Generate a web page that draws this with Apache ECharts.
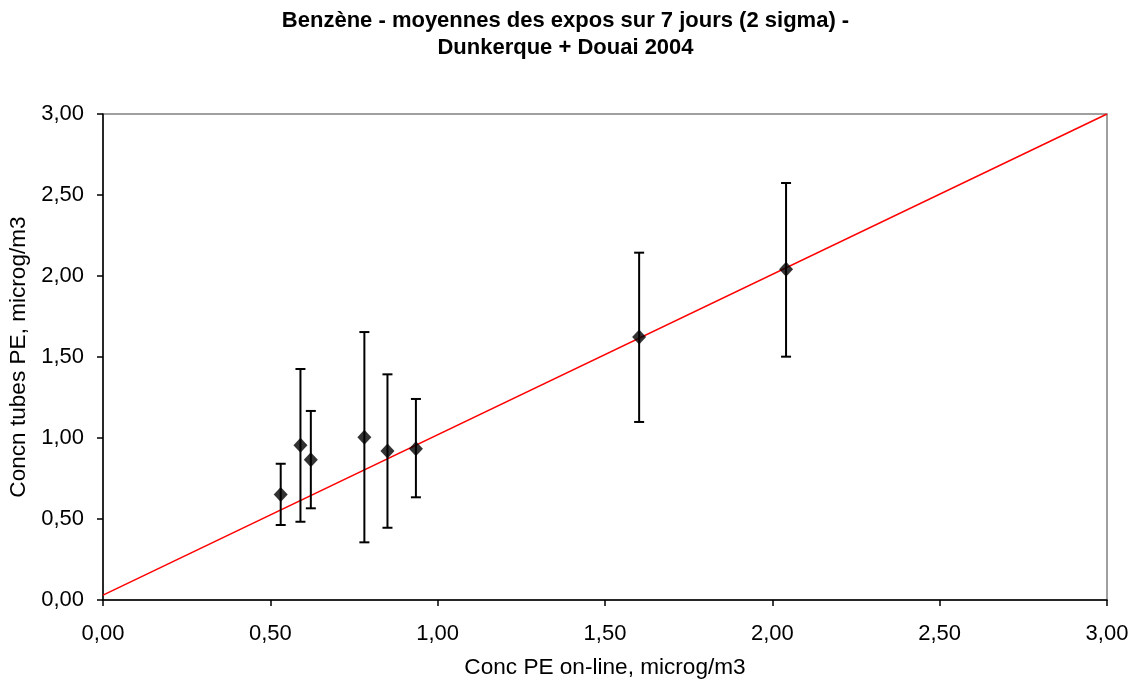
<!DOCTYPE html>
<html>
<head>
<meta charset="utf-8">
<script src="https://cdn.jsdelivr.net/npm/echarts@6/dist/echarts.min.js"></script>
<style>
  html, body { margin: 0; padding: 0; background: #fff; }
  #chart { width: 1131px; height: 682px; }
</style>
</head>
<body>
<div id="chart"></div>
<script>
// valeurs
const concOnline = [0.531, 0.590, 0.621, 0.781, 0.850, 0.935, 1.602, 2.041];
const concTubes = [0.652, 0.955, 0.866, 1.004, 0.920, 0.934, 1.623, 2.041];
const errHigh = [0.841, 1.426, 1.167, 1.654, 1.393, 1.241, 2.144, 2.574];
const errLow = [0.463, 0.483, 0.566, 0.356, 0.446, 0.634, 1.099, 1.502];
const refLine = [[0, 0.03], [3, 3]];

const fmt = v => v.toFixed(2).replace('.', ',');

const chart = echarts.init(document.getElementById('chart'));

const points = concOnline.map((x, i) => [x, concTubes[i]]);
const bars = concOnline.map((x, i) => [x, errLow[i], errHigh[i]]);

chart.setOption({
  animation: false,
  backgroundColor: '#fff',
  textStyle: { fontFamily: 'Liberation Sans, Arial, sans-serif' },
  title: {
    text: 'Benzène - moyennes des expos sur 7 jours (2 sigma) -\nDunkerque + Douai 2004',
    left: 'center',
    top: 2,
    textStyle: { fontSize: 22, fontWeight: 'bold', color: '#000', lineHeight: 27 }
  },
  grid: {
    left: 103,
    right: 24,
    top: 114,
    bottom: 82,
    outerBoundsMode: 'none',
    containLabel: false,
    show: true,
    borderColor: '#808080',
    borderWidth: 1.5,
    backgroundColor: '#fff'
  },
  xAxis: {
    type: 'value',
    min: 0,
    max: 3,
    interval: 0.5,
    name: 'Conc PE on-line, microg/m3',
    nameLocation: 'middle',
    nameGap: 56,
    nameTextStyle: { fontSize: 22.6, color: '#000' },
    axisLine: { lineStyle: { color: '#000', width: 1.5 } },
    axisTick: { show: true, length: 6, lineStyle: { color: '#000', width: 1.5 } },
    axisLabel: { fontSize: 22, color: '#000', margin: 23, formatter: fmt },
    splitLine: { show: false }
  },
  yAxis: {
    type: 'value',
    min: 0,
    max: 3,
    interval: 0.5,
    name: 'Concn tubes PE, microg/m3',
    nameLocation: 'middle',
    nameGap: 70,
    nameTextStyle: { fontSize: 22.6, color: '#000' },
    axisLine: { show: true, lineStyle: { color: '#000', width: 1.5 } },
    axisTick: { show: true, length: 6, lineStyle: { color: '#000', width: 1.5 } },
    axisLabel: { fontSize: 22, color: '#000', margin: 19, formatter: fmt },
    splitLine: { show: false }
  },
  series: [
    {
      type: 'line',
      data: refLine,
      symbol: 'none',
      lineStyle: { color: '#ff0000', width: 1.5 },
      z: 2
    },
    {
      type: 'custom',
      data: bars,
      z: 3,
      renderItem: (params, api) => {
        const x = api.value(0);
        const lo = api.coord([x, api.value(1)]);
        const hi = api.coord([x, api.value(2)]);
        const w = 5;
        const style = { stroke: '#000', lineWidth: 2 };
        return {
          type: 'group',
          children: [
            { type: 'line', shape: { x1: lo[0], y1: lo[1], x2: hi[0], y2: hi[1] }, style },
            { type: 'line', shape: { x1: hi[0] - w, y1: hi[1], x2: hi[0] + w, y2: hi[1] }, style },
            { type: 'line', shape: { x1: lo[0] - w, y1: lo[1], x2: lo[0] + w, y2: lo[1] }, style }
          ]
        };
      }
    },
    {
      type: 'scatter',
      data: points,
      symbol: 'diamond',
      symbolSize: [14, 15],
      itemStyle: { color: '#000' },
      z: 4
    }
  ]
});
</script>
</body>
</html>
